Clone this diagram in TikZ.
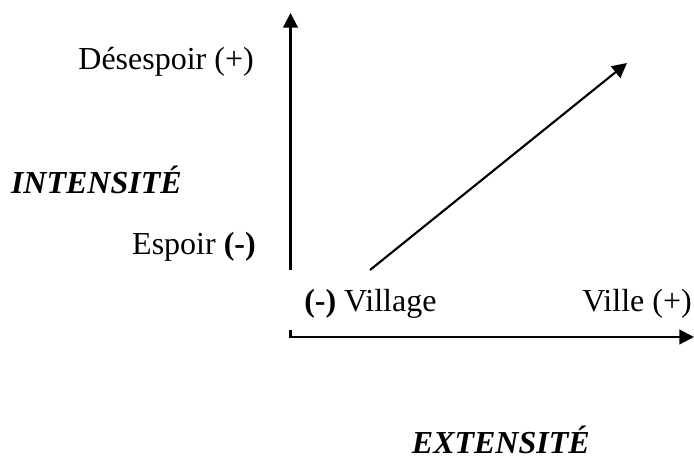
\documentclass[tikz,border=0pt]{standalone}
\usepackage{fontspec}
\setmainfont{Liberation Serif}
\usetikzlibrary{arrows.meta}
\begin{document}
\begin{tikzpicture}[x=0.75pt,y=-0.75pt,
  axis/.style={line width=1.6pt,-{Triangle[length=11pt,width=11pt]}},
  lbl/.style={inner sep=0pt,font=\fontsize{24pt}{29pt}\selectfont},
  ttl/.style={lbl,font=\fontsize{24pt}{29pt}\selectfont\bfseries\itshape}]
\useasboundingbox (0,0) rectangle (694,461);
\coordinate (vb) at (290.5,270);
\coordinate (vt) at (290.5,13);
\coordinate (hb) at (290.5,330);
\coordinate (hc) at (290.5,337);
\coordinate (hr) at (694,337);
\coordinate (db) at (370,270);
\coordinate (dt) at (627,63);
\draw[axis] (vb) -- (vt);
\draw[axis] (hb) -- (hc) -- (hr);
\draw[axis] (db) -- (dt);
\node[lbl,anchor=base east] (desesp) at (254,69) {Désespoir (+)};
\node[ttl,anchor=base east] (inten) at (182,193) {INTENSITÉ};
\node[lbl,anchor=base east] (espoir) at (256,254) {Espoir \textbf{(-)}};
\node[lbl,anchor=base west] (village) at (304,311) {\textbf{(-)} Village};
\node[lbl,anchor=base east] (ville) at (692,311) {Ville (+)};
\node[ttl,anchor=base east] (exten) at (590,453) {EXTENSITÉ};
\end{tikzpicture}
\end{document}
